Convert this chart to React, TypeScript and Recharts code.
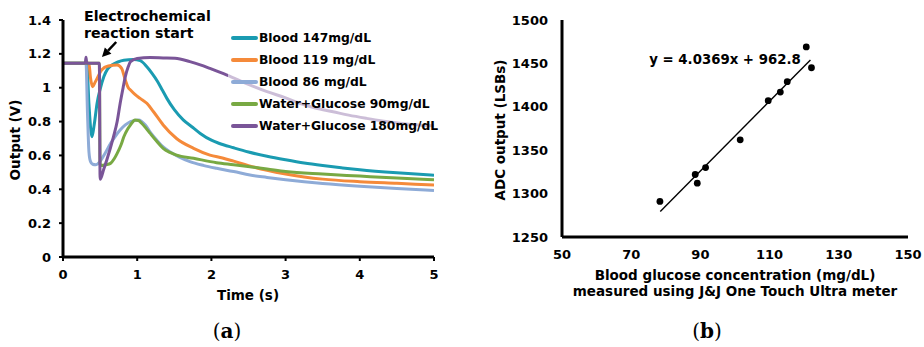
import React from 'react'
import {
  LineChart,
  Line,
  ScatterChart,
  Scatter,
  XAxis,
  YAxis,
  Legend,
  ReferenceLine,
} from 'recharts'

// (a) sensor output vs time, [t (s), V]
const blood147 = [
  [0, 1.145], [0.32, 1.145], [0.35, 0.9], [0.39, 0.71], [0.42, 0.78], [0.46, 0.91],
  [0.5, 0.99], [0.55, 1.065], [0.6, 1.11], [0.66, 1.134], [0.74, 1.152], [0.82, 1.162],
  [0.95, 1.166], [1.04, 1.16], [1.13, 1.124], [1.2, 1.085], [1.27, 1.04], [1.34, 0.985],
  [1.4, 0.937], [1.5, 0.87], [1.62, 0.81], [1.75, 0.765], [1.85, 0.73], [2.0, 0.69],
  [2.1, 0.672], [2.3, 0.645], [2.5, 0.62], [2.75, 0.595], [3.0, 0.574], [3.25, 0.555],
  [3.5, 0.54], [3.75, 0.527], [4.0, 0.515], [4.5, 0.497], [5.0, 0.483],
]
const blood119 = [
  [0, 1.145], [0.35, 1.145], [0.37, 1.06], [0.4, 1.006], [0.43, 1.03], [0.46, 1.055],
  [0.52, 1.105], [0.61, 1.128], [0.73, 1.134], [0.79, 1.114], [0.84, 1.045], [0.88, 1.0],
  [0.91, 0.986], [0.97, 0.96], [1.04, 0.937], [1.13, 0.908], [1.22, 0.858], [1.35, 0.78],
  [1.53, 0.7], [1.76, 0.642], [1.98, 0.602], [2.15, 0.585], [2.3, 0.566], [2.5, 0.54],
  [2.75, 0.512], [3.0, 0.49], [3.25, 0.473], [3.5, 0.46], [4.0, 0.445], [4.5, 0.435],
  [5.0, 0.425],
]
const blood86 = [
  [0, 1.145], [0.31, 1.145], [0.33, 0.85], [0.35, 0.62], [0.37, 0.565], [0.4, 0.548],
  [0.44, 0.545], [0.5, 0.565], [0.57, 0.615], [0.64, 0.67], [0.7, 0.71], [0.77, 0.75],
  [0.84, 0.78], [0.91, 0.8], [1.02, 0.81], [1.11, 0.78], [1.18, 0.735], [1.265, 0.69],
  [1.35, 0.65], [1.44, 0.622], [1.57, 0.59], [1.71, 0.563], [1.9, 0.54], [2.07, 0.524],
  [2.3, 0.505], [2.52, 0.484], [2.75, 0.47], [3.0, 0.456], [3.25, 0.444], [3.5, 0.434],
  [4.0, 0.418], [4.5, 0.405], [5.0, 0.393],
]
const water90 = [
  [0, 1.145], [0.49, 1.145], [0.5, 0.54], [0.58, 0.545], [0.64, 0.553], [0.69, 0.58],
  [0.73, 0.612], [0.78, 0.66], [0.82, 0.71], [0.87, 0.755], [0.91, 0.78], [0.97, 0.81],
  [1.02, 0.805], [1.06, 0.79], [1.12, 0.76], [1.175, 0.73], [1.26, 0.685], [1.35, 0.642],
  [1.44, 0.618], [1.53, 0.602], [1.76, 0.583], [2.07, 0.557], [2.3, 0.545], [2.52, 0.533],
  [2.75, 0.52], [3.0, 0.505], [3.5, 0.49], [4.0, 0.478], [4.5, 0.466], [5.0, 0.456],
]
const water180 = [
  [0, 1.145], [0.3, 1.145], [0.31, 1.18], [0.32, 1.145], [0.49, 1.145], [0.5, 0.459],
  [0.55, 0.52], [0.59, 0.573], [0.68, 0.71], [0.73, 0.8], [0.77, 0.907], [0.81, 1.0],
  [0.84, 1.065], [0.88, 1.125], [0.91, 1.154], [1.0, 1.172], [1.175, 1.178], [1.35, 1.176],
  [1.51, 1.174], [1.71, 1.154], [1.85, 1.135], [1.98, 1.114], [2.21, 1.075], [2.5, 1.02],
  [2.75, 0.977], [3.0, 0.94], [3.19, 0.908], [3.4, 0.88], [3.64, 0.858], [3.85, 0.838],
  [4.09, 0.819], [4.3, 0.804], [4.54, 0.79], [4.8, 0.78], [5.0, 0.775],
]

const seriesNames = [
  'Blood 147mg/dL',
  'Blood 119 mg/dL',
  'Blood 86 mg/dL',
  'Water+Glucose 90mg/dL',
  'Water+Glucose 180mg/dL',
]
const seriesColors = ['#1a9bb1', '#f58a3a', '#8eabd7', '#78a943', '#7a5598']
const seriesData = [blood147, blood119, blood86, water90, water180]

const timeTicks = [0, 1, 2, 3, 4, 5]
const outputTicks = [0, 0.2, 0.4, 0.6, 0.8, 1, 1.2, 1.4]

// arrow "Electrochemical reaction start": tail -> head, in data units
const arrowFrom = { x: 0.717, y: 1.27 }
const arrowTo = { x: 0.525, y: 1.181 }

// (b) ADC output vs meter reading
const meterReading = [78.3, 88.5, 89.1, 91.5, 101.5, 109.6, 113.1, 115.1, 120.6, 122.1]
const adcOutput = [1291, 1322, 1312, 1330, 1362, 1407, 1417, 1429, 1469, 1445]
const trendX = [78.4, 121.8]
const trendY = [1279.5, 1454]
const glucoseTicks = [50, 70, 90, 110, 130, 150]
const adcTicks = [1250, 1300, 1350, 1400, 1450, 1500]

const FONT = '"DejaVu Sans", Verdana, sans-serif'
const tickStyle = { fill: '#000', fontSize: 13, fontWeight: 700, fontFamily: FONT }

const toPoints = (arr: number[][]) => arr.map(([t, v]) => ({ t, v }))

function Txt({ x, y, children, rotate, size = 13.5, family = FONT, weight = 700 }: any) {
  return (
    <div
      style={{
        position: 'absolute',
        left: x,
        top: y,
        transform: `translate(-50%, -50%)${rotate ? ` rotate(${rotate}deg)` : ''}`,
        whiteSpace: 'nowrap',
        fontFamily: family,
        fontSize: size,
        fontWeight: weight,
        color: '#000',
        lineHeight: 1.2,
        textAlign: 'center',
      }}
    >
      {children}
    </div>
  )
}

function ArrowShape(props: any) {
  const { x1, y1, x2, y2 } = props
  if (x1 == null) return null
  const ang = Math.atan2(y2 - y1, x2 - x1)
  const len = 9
  const w = 4.5
  const bx = x2 - len * Math.cos(ang)
  const by = y2 - len * Math.sin(ang)
  const px = -Math.sin(ang) * w
  const py = Math.cos(ang) * w
  return (
    <g>
      <line x1={x1} y1={y1} x2={bx} y2={by} stroke="#000" strokeWidth={2.5} />
      <polygon points={`${x2},${y2} ${bx + px},${by + py} ${bx - px},${by - py}`} fill="#000" />
    </g>
  )
}

const Dot = (p: any) => <circle cx={p.cx} cy={p.cy} r={3.4} fill="#000" />

function LegendBox() {
  return (
    <div style={{ width: 218, height: 110, background: 'rgba(255,255,255,0.62)' }}>
      {seriesNames.map((name, i) => (
        <div key={name} style={{ display: 'flex', alignItems: 'center', height: 22 }}>
          <div
            style={{
              width: 27,
              height: 3.5,
              marginLeft: 3,
              marginRight: 1,
              background: seriesColors[i],
              borderRadius: 2,
            }}
          />
          <span style={{ fontFamily: FONT, fontWeight: 700, fontSize: 12.3, color: '#000', whiteSpace: 'nowrap' }}>
            {name}
          </span>
        </div>
      ))}
    </div>
  )
}

export default function App() {
  const scatterPts = meterReading.map((x, i) => ({ x, y: adcOutput[i] }))
  const trendPts = trendX.map((x, i) => ({ x, y: trendY[i] }))
  return (
    <div
      style={{
        position: 'absolute',
        left: 0,
        top: 0,
        width: 924,
        height: 347,
        background: '#fff',
        overflow: 'hidden',
      }}
    >
      <div style={{ position: 'absolute', left: 0, top: 0 }}>
        <LineChart width={460} height={347} margin={{ top: 20, right: 26, bottom: 60, left: 13 }}>
          <XAxis
            type="number"
            dataKey="t"
            domain={[0, 5]}
            ticks={timeTicks}
            allowDataOverflow
            height={30}
            tick={tickStyle}
            tickSize={4}
            tickMargin={9}
            axisLine={{ stroke: '#000', strokeWidth: 3 }}
            tickLine={{ stroke: '#000', strokeWidth: 2 }}
          />
          <YAxis
            type="number"
            domain={[0, 1.4]}
            ticks={outputTicks}
            tickFormatter={(v: number) => String(v)}
            width={50}
            tick={tickStyle}
            tickSize={4}
            tickMargin={8}
            axisLine={{ stroke: '#000', strokeWidth: 3 }}
            tickLine={{ stroke: '#000', strokeWidth: 2 }}
          />
          {seriesData.map((d, i) => (
            <Line
              key={seriesNames[i]}
              data={toPoints(d)}
              dataKey="v"
              name={seriesNames[i]}
              type="monotone"
              stroke={seriesColors[i]}
              strokeWidth={3}
              dot={false}
              isAnimationActive={false}
            />
          ))}
          <ReferenceLine
            segment={[arrowFrom, arrowTo]}
            shape={ArrowShape}
            ifOverflow="visible"
          />
          <Legend
            layout="vertical"
            align="center"
            verticalAlign="middle"
            content={() => <LegendBox />}
            wrapperStyle={{ left: 228, top: 27, width: 218, height: 110 }}
          />
        </LineChart>
      </div>

      <div style={{ position: 'absolute', left: 460, top: 0 }}>
        <ScatterChart width={464} height={347} margin={{ top: 20, right: 16, bottom: 80, left: 62 }}>
          <XAxis
            type="number"
            dataKey="x"
            domain={[50, 150]}
            ticks={glucoseTicks}
            height={30}
            tick={tickStyle}
            tickSize={0}
            tickMargin={13}
            tickLine={false}
            axisLine={{ stroke: '#000', strokeWidth: 3 }}
          />
          <YAxis
            type="number"
            dataKey="y"
            domain={[1250, 1500]}
            ticks={adcTicks}
            width={40}
            tick={tickStyle}
            tickSize={0}
            tickMargin={14}
            tickLine={false}
            axisLine={{ stroke: '#000', strokeWidth: 3 }}
          />
          <Scatter
            data={trendPts}
            line={{ stroke: '#000', strokeWidth: 1.4 }}
            shape={() => <g />}
            isAnimationActive={false}
          />
          <Scatter data={scatterPts} fill="#000" shape={Dot} isAnimationActive={false} />
        </ScatterChart>
      </div>

      {/* annotations and titles */}
      <div
        style={{
          position: 'absolute',
          left: 84,
          top: 8,
          fontFamily: FONT,
          fontWeight: 700,
          fontSize: 14.2,
          lineHeight: '17px',
          color: '#000',
        }}
      >
        Electrochemical
        <br />
        reaction start
      </div>
      <Txt x={15} y={140} rotate={-90}>Output (V)</Txt>
      <Txt x={248} y={295}>Time (s)</Txt>
      <Txt x={500} y={130} rotate={-90}>ADC output (LSBs)</Txt>
      <Txt x={725} y={60} size={13.3}>y = 4.0369x + 962.8</Txt>
      <Txt x={735} y={283}>
        Blood glucose concentration (mg/dL)
        <br />
        measured using J&amp;J One Touch Ultra meter
      </Txt>
      <Txt x={227} y={331} size={20} family='"DejaVu Serif", "Liberation Serif", serif' weight={400}>
        (<b>a</b>)
      </Txt>
      <Txt x={707} y={331} size={20} family='"DejaVu Serif", "Liberation Serif", serif' weight={400}>
        (<b>b</b>)
      </Txt>
    </div>
  )
}
